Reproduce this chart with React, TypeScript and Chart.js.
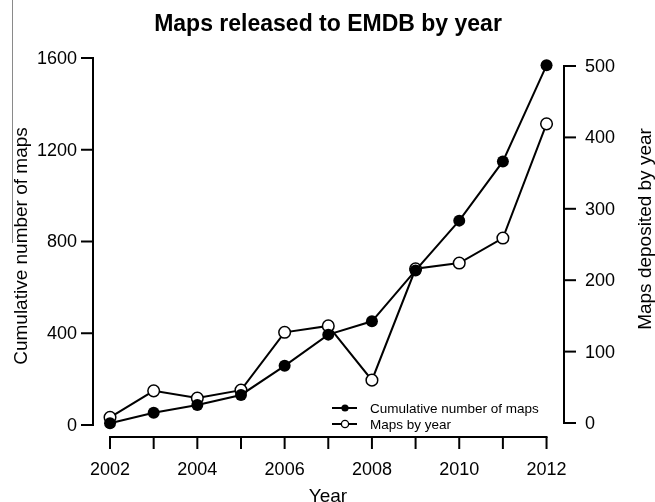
import React, { useEffect, useRef } from "react";
import { Chart, registerables } from "chart.js";

Chart.register(...registerables);

// ---- data ----
const years = [2002, 2003, 2004, 2005, 2006, 2007, 2008, 2009, 2010, 2011, 2012];
const cumulativeMaps = [8, 53, 87, 131, 258, 394, 452, 674, 891, 1149, 1568];
const mapsByYear = [8, 45, 35, 46, 127, 136, 60, 216, 224, 259, 419];
const xTickYears = [2002, 2003, 2004, 2005, 2006, 2007, 2008, 2009, 2010, 2011, 2012];
const xLabelYears = [2002, 2004, 2006, 2008, 2010, 2012];
const leftTicks = [0, 400, 800, 1200, 1600];
const rightTicks = [0, 100, 200, 300, 400, 500];
const chartTitle = "Maps released to EMDB by year";
const xTitle = "Year";
const leftTitle = "Cumulative number of maps";
const rightTitle = "Maps deposited by year";
const seriesNames = ["Cumulative number of maps", "Maps by year"];

const FONT = "'Liberation Sans', Arial, Helvetica, sans-serif";

const axesPlugin = {
  id: "rAxes",
  afterDraw(chart: any) {
    const ctx: CanvasRenderingContext2D = chart.ctx;
    const x = chart.scales.x;
    const yl = chart.scales.yLeft;
    const yr = chart.scales.yRight;
    ctx.save();
    ctx.strokeStyle = "#000";
    ctx.fillStyle = "#000";
    ctx.lineWidth = 2;
    ctx.lineCap = "butt";

    // title
    ctx.font = `bold 23px ${FONT}`;
    ctx.textAlign = "center";
    ctx.textBaseline = "alphabetic";
    ctx.fillText(chartTitle, 328, 31);

    // left axis
    const lx = 93;
    ctx.beginPath();
    ctx.moveTo(lx, yl.getPixelForValue(leftTicks[0]) + 1);
    ctx.lineTo(lx, yl.getPixelForValue(leftTicks[leftTicks.length - 1]) - 1);
    ctx.stroke();
    ctx.font = `18px ${FONT}`;
    ctx.textAlign = "right";
    ctx.textBaseline = "middle";
    leftTicks.forEach((t) => {
      const py = yl.getPixelForValue(t);
      ctx.beginPath();
      ctx.moveTo(lx, py);
      ctx.lineTo(lx - 12, py);
      ctx.stroke();
      ctx.fillText(String(t), lx - 16, py + 1);
    });

    // right axis
    const rx = 564;
    ctx.beginPath();
    ctx.moveTo(rx, yr.getPixelForValue(rightTicks[0]) + 1);
    ctx.lineTo(rx, yr.getPixelForValue(rightTicks[rightTicks.length - 1]) - 1);
    ctx.stroke();
    ctx.textAlign = "left";
    rightTicks.forEach((t) => {
      const py = yr.getPixelForValue(t);
      ctx.beginPath();
      ctx.moveTo(rx, py);
      ctx.lineTo(rx + 12, py);
      ctx.stroke();
      ctx.fillText(String(t), rx + 21, py + 1);
    });

    // x axis
    const ay = 437;
    ctx.beginPath();
    ctx.moveTo(x.getPixelForValue(xTickYears[0]) - 1, ay);
    ctx.lineTo(x.getPixelForValue(xTickYears[xTickYears.length - 1]) + 1, ay);
    ctx.stroke();
    xTickYears.forEach((t) => {
      const px = x.getPixelForValue(t);
      ctx.beginPath();
      ctx.moveTo(px, ay);
      ctx.lineTo(px, ay + 12);
      ctx.stroke();
    });
    ctx.textAlign = "center";
    ctx.textBaseline = "alphabetic";
    xLabelYears.forEach((t) => {
      ctx.fillText(String(t), x.getPixelForValue(t), 475);
    });

    // axis titles
    ctx.font = `19px ${FONT}`;
    ctx.fillText(xTitle, 328, 502);

    ctx.save();
    ctx.translate(27, 246);
    ctx.rotate(-Math.PI / 2);
    ctx.textAlign = "center";
    ctx.textBaseline = "alphabetic";
    ctx.fillText(leftTitle, 0, 0);
    ctx.restore();

    ctx.save();
    ctx.translate(651, 229);
    ctx.rotate(-Math.PI / 2);
    ctx.textAlign = "center";
    ctx.textBaseline = "alphabetic";
    ctx.fillText(rightTitle, 0, 0);
    ctx.restore();

    // legend
    const rows = [408, 424];
    ctx.font = `13.5px ${FONT}`;
    ctx.textAlign = "left";
    ctx.textBaseline = "middle";
    rows.forEach((ry, i) => {
      ctx.lineWidth = 2;
      ctx.beginPath();
      ctx.moveTo(332, ry);
      ctx.lineTo(357, ry);
      ctx.stroke();
      ctx.beginPath();
      ctx.arc(345, ry, 3.6, 0, Math.PI * 2);
      if (i === 0) {
        ctx.fillStyle = "#000";
        ctx.fill();
      } else {
        ctx.fillStyle = "#fff";
        ctx.fill();
        ctx.lineWidth = 1.3;
        ctx.stroke();
      }
      ctx.fillStyle = "#000";
      ctx.fillText(seriesNames[i], 370, ry + 1);
    });

    ctx.restore();
  },
};

export default function App() {
  const canvasRef = useRef<HTMLCanvasElement | null>(null);

  useEffect(() => {
    if (!canvasRef.current) return;
    const chart = new Chart(canvasRef.current, {
      type: "line",
      data: {
        datasets: [
          {
            label: seriesNames[0],
            data: years.map((yr, i) => ({ x: yr, y: cumulativeMaps[i] })),
            yAxisID: "yLeft",
            borderColor: "#000",
            borderWidth: 2,
            pointRadius: 6,
            pointBackgroundColor: "#000",
            pointBorderColor: "#000",
            pointBorderWidth: 0,
            tension: 0,
            order: 0,
            clip: false as any,
          },
          {
            label: seriesNames[1],
            data: years.map((yr, i) => ({ x: yr, y: mapsByYear[i] })),
            yAxisID: "yRight",
            borderColor: "#000",
            borderWidth: 2,
            pointRadius: 5.8,
            pointBackgroundColor: "#fff",
            pointBorderColor: "#000",
            pointBorderWidth: 1.5,
            tension: 0,
            order: 1,
            clip: false as any,
          },
        ],
      },
      options: {
        animation: false,
        responsive: false,
        devicePixelRatio: 1,
        layout: { padding: { left: 93, right: 91, top: 58, bottom: 77 } },
        plugins: {
          legend: { display: false },
          title: { display: false },
          tooltip: { enabled: false },
        },
        events: [],
        scales: {
          x: { type: "linear", display: false, min: 2001.61, max: 2012.4 },
          yLeft: { type: "linear", display: false, position: "left", min: 0, max: 1600 },
          yRight: { type: "linear", display: false, position: "right", min: -2.8, max: 511.2 },
        },
      },
      plugins: [axesPlugin],
    });
    return () => chart.destroy();
  }, []);

  return (
    <div style={{ position: "absolute", left: 0, top: 0, width: 655, height: 502, background: "#fff" }}>
      <canvas ref={canvasRef} width={655} height={502} style={{ width: 655, height: 502, display: "block" }} />
      <div style={{ position: "absolute", left: 12, top: 0, width: 1, height: 243, background: "#8a8a8a" }} />
    </div>
  );
}
